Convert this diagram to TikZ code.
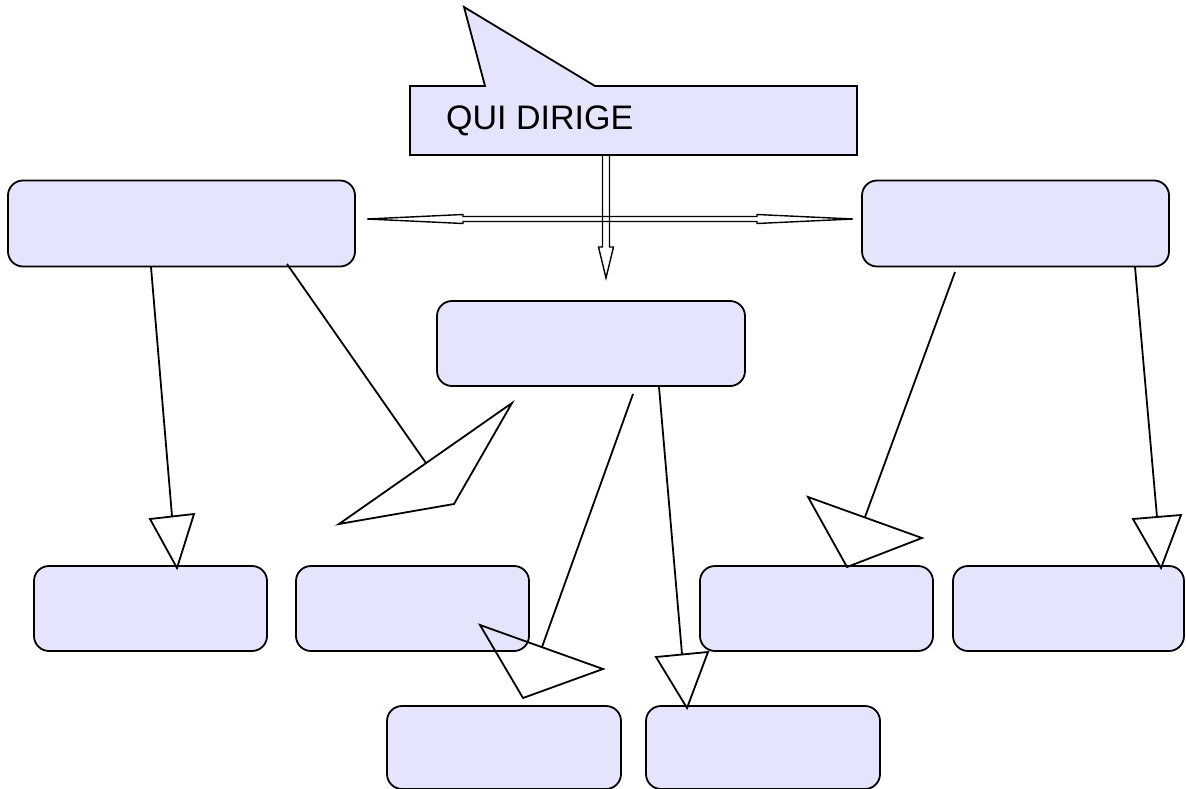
\documentclass[tikz,border=0pt]{standalone}
\usepackage{fontspec}
\setmainfont{Liberation Sans}
\definecolor{boxfill}{HTML}{E4E4FC}
\tikzset{
  box/.style={draw=black, fill=boxfill, rounded corners=15pt, line width=1.8pt, inner sep=0pt},
  conn/.style={draw=black, line width=1.8pt},
  head/.style={draw=black, line width=1.8pt, line join=miter},
  dbl/.style={draw=black, line width=1.4pt, line join=miter}
}
\begin{document}
\begin{tikzpicture}[x=1pt,y=-1pt]
\useasboundingbox (0,0) rectangle (1186,789);
% callout
\draw[draw=black, fill=boxfill, line width=1.8pt, line join=miter]
  (410,86) -- (485,86) -- (464,7) -- (595,86) -- (857,86) -- (857,155) -- (410,155) -- cycle;
\node[anchor=base west, inner sep=0pt, font=\fontsize{34}{38}\selectfont] (title) at (446,130) {QUI DIRIGE};
\coordinate (callbot) at (606,155);
% boxes
\node[box, minimum width=347pt, minimum height=86pt] (lt) at (181.5,223.5) {};
\node[box, minimum width=307pt, minimum height=86pt] (rt) at (1015.5,223.5) {};
\node[box, minimum width=308pt, minimum height=85pt] (mid) at (591,343.5) {};
\node[box, minimum width=233pt, minimum height=85pt] (b1) at (150.5,608.5) {};
\node[box, minimum width=233pt, minimum height=85pt] (b2) at (412.5,608.5) {};
\node[box, minimum width=233pt, minimum height=85pt] (b3) at (816.5,608.5) {};
\node[box, minimum width=231pt, minimum height=85pt] (b4) at (1068.5,608.5) {};
\node[box, minimum width=234pt, minimum height=83pt] (b5) at (504,747.5) {};
\node[box, minimum width=234pt, minimum height=83pt] (b6) at (763,747.5) {};
% double arrows
\draw[dbl] (602.5,155) -- (602.5,247) -- (598.5,247) -- (606,278) -- (613.5,247) -- (609.5,247) -- (609.5,155);
\coordinate (htipL) at (367,219);
\coordinate (htipR) at (853,219);
\draw[dbl] (htipL) -- (463,214.5) -- (463,216.5) -- (757,216.5) -- (757,214.5) -- (htipR)
  -- (757,223.5) -- (757,221.5) -- (463,221.5) -- (463,223.5) -- cycle;
% arrow 1
\coordinate (e1) at (172,516);
\draw[conn] (151,267) -- (e1);
\draw[head] (150,519) -- (194,514) -- (177,568) -- cycle;
% arrow 2
\coordinate (e2) at (426,463);
\draw[conn] (287,264) -- (e2);
\draw[head] (512,403) -- (454,504) -- (339,524) -- cycle;
% arrow 3
\coordinate (e3) at (542,647);
\draw[conn] (633,394) -- (e3);
\draw[head] (480,625) -- (603,669) -- (523,698) -- cycle;
% arrow 4
\coordinate (e4) at (682,654);
\draw[conn] (659,387) -- (e4);
\draw[head] (656,657) -- (708,652) -- (687,708) -- cycle;
% arrow 5
\coordinate (e5) at (865,517);
\draw[conn] (955,272) -- (e5);
\draw[head] (808,497) -- (922,538) -- (847,567) -- cycle;
% arrow 6
\coordinate (e6) at (1157,517);
\draw[conn] (1135,267) -- (e6);
\draw[head] (1133,519) -- (1181,515) -- (1161,568) -- cycle;
\end{tikzpicture}
\end{document}
